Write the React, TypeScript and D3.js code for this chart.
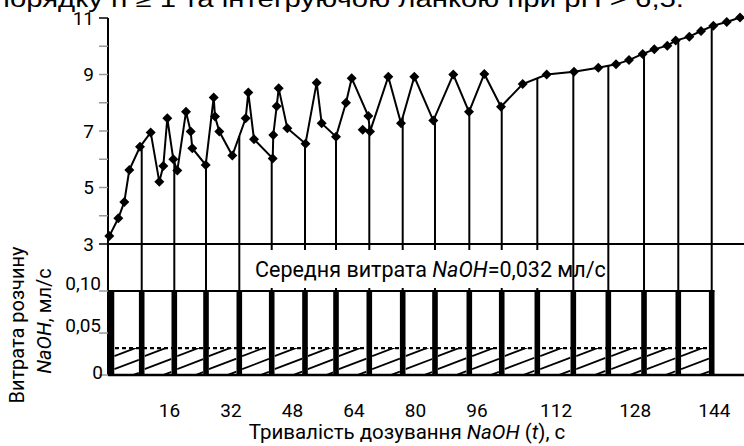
import React from "react";
import * as d3 from "d3";

// time axis (s)
const timeTicks = [16, 32, 48, 64, 80, 96, 112, 128, 144];
// upper panel: level scale
const levelTicks = [3, 4, 5, 6, 7, 8, 9, 10, 11];
// lower panel: NaOH rate, ml/s
const rateTicks = [0, 0.05, 0.1];
const rateTickLabels = ["0", "0,05", "0,10"];

const curveTime = [
  0.34, 2.68, 4.24, 5.54, 8.33, 11.11, 13.35, 14.39, 15.43, 16.99, 18.03, 20.29,
  21.51, 21.93, 25.42, 27.5, 27.84, 28.96, 32.34, 35.82, 36.5, 37.98, 42.85, 43.0,
  43.89, 44.41, 46.65, 51.38, 54.29, 55.59, 59.32, 61.92, 63.4, 67.72, 68.16, 72.92,
  76.23, 79.69, 84.63, 89.83, 93.92, 97.48, 100.85, 105.24, 110.1, 115.62, 120.53,
  124.11, 126.74, 129.51, 131.86, 134.49, 136.19, 138.94, 141.31, 143.8, 146.51, 149.2,
];
const curveLevel = [
  3.28, 3.91, 4.49, 5.62, 6.44, 6.95, 5.2, 5.76, 7.45, 6.0, 5.6, 7.68,
  6.98, 6.39, 5.8, 8.19, 7.51, 6.98, 6.13, 7.45, 8.36, 6.71, 6.03, 6.86,
  7.88, 8.51, 7.1, 6.55, 8.71, 7.27, 6.8, 8.0, 8.87, 7.53, 6.98, 8.92,
  7.27, 8.92, 7.37, 9.0, 7.68, 9.02, 7.86, 8.66, 9.0, 9.1, 9.24,
  9.36, 9.51, 9.73, 9.89, 10.02, 10.2, 10.34, 10.54, 10.73, 10.86, 11.02,
];
const strayTime = [66.26];
const strayLevel = [7.04];

// dosing moments
const stemTime = [
  8.77, 17.25, 25.5, 34.16, 42.59, 51.25, 59.32, 67.98, 76.67, 85.07, 94.0,
  101.0, 108.2, 115.48, 122.56, 129.78, 136.71, 143.47,
];
const barTime = [0.9, ...stemTime];
const meanRate = 0.032;

const W = 744;
const H = 446;
const axisX = 108;
const fontNum = "Roboto, 'DejaVu Sans', sans-serif";

export default function App() {
  const x = d3.scaleLinear().domain([0, 96, 150]).range([axisX, 477, W]);
  const yTop = d3.scaleLinear().domain([3, 11]).range([244, 18]);
  const yBot = d3.scaleLinear().domain([0, 0.1]).range([375, 291]);

  const pts = curveTime.map((t, i) => [t, curveLevel[i]] as [number, number]);
  const line = d3
    .line<[number, number]>()
    .x((d) => x(d[0]))
    .y((d) => yTop(d[1]));

  const bis = d3.bisector((d: [number, number]) => d[0]).left;
  const levelAt = (t: number) => {
    const i = Math.max(1, Math.min(pts.length - 1, bis(pts, t)));
    const a = pts[i - 1];
    const b = pts[i];
    return a[1] + ((t - a[0]) / (b[0] - a[0])) * (b[1] - a[1]);
  };

  const diamond = d3.symbol().type(d3.symbolSquare).size(50)();
  const barW = 5.6;
  const hatchTop = yBot(meanRate);
  const base = yBot(0);
  const lastBarX = x(barTime[barTime.length - 1]) + barW / 2;

  const cells = barTime.slice(0, -1).map((t, i) => ({
    x0: x(t) + barW / 2,
    x1: x(barTime[i + 1]) - barW / 2,
  }));

  return (
    <svg
      width={W}
      height={H}
      style={{ position: "absolute", left: 0, top: 0, background: "#fff" }}
    >
      <defs>
        {cells.map((c, i) => (
          <clipPath id={`cell${i}`} key={i}>
            <rect x={c.x0} y={hatchTop} width={c.x1 - c.x0} height={base - hatchTop} />
          </clipPath>
        ))}
      </defs>

      {/* cut title from the page above */}
      <text
        x={-6}
        y={6.5}
        fontFamily="'Liberation Sans', Arial, sans-serif"
        fontSize={23}
        textLength={690}
        lengthAdjust="spacingAndGlyphs"
      >
        порядку n ≥ 1 та інтегруючою ланкою при pH &gt; 6,5.
      </text>

      {/* stems */}
      {stemTime.map((t, i) => (
        <line
          key={i}
          x1={x(t)}
          x2={x(t)}
          y1={yTop(levelAt(t))}
          y2={base}
          stroke="#000"
          strokeWidth={2}
        />
      ))}

      {/* hatch under mean rate */}
      {cells.map((c, i) => {
        const w = c.x1 - c.x0;
        return (
          <g key={i} clipPath={`url(#cell${i})`}>
            {[8, 21, 34].map((off, k) => (
              <line
                key={k}
                x1={c.x0}
                x2={c.x1}
                y1={hatchTop + off}
                y2={hatchTop + off - w * 0.38}
                stroke="#000"
                strokeWidth={1.8}
              />
            ))}
          </g>
        );
      })}
      <line
        x1={axisX}
        x2={lastBarX}
        y1={hatchTop}
        y2={hatchTop}
        stroke="#000"
        strokeWidth={2.2}
        strokeDasharray="4 3"
      />

      {/* dosing bars */}
      {barTime.map((t, i) => (
        <rect
          key={i}
          x={x(t) - barW / 2}
          y={yBot(0.1)}
          width={barW}
          height={base - yBot(0.1)}
          fill="#000"
        />
      ))}
      <line x1={axisX} x2={lastBarX} y1={yBot(0.1)} y2={yBot(0.1)} stroke="#000" strokeWidth={2} />
      <line x1={axisX} x2={W} y1={base} y2={base} stroke="#000" strokeWidth={2.5} />
      <line x1={axisX} x2={W} y1={yTop(3)} y2={yTop(3)} stroke="#000" strokeWidth={2} />

      {/* mean rate note */}
      <rect x={252} y={250} width={319} height={38} fill="#fff" />
      <text x={255} y={277} fontFamily={fontNum} fontSize={21.5}>
        Середня витрата <tspan fontStyle="italic">NaOH</tspan>=0,032 мл/с
      </text>

      {/* curve */}
      <path d={line(pts) ?? ""} fill="none" stroke="#000" strokeWidth={2} />
      {pts.map((d, i) => (
        <path
          key={i}
          d={diamond ?? ""}
          transform={`translate(${x(d[0])},${yTop(d[1])}) rotate(45)`}
          fill="#000"
        />
      ))}
      {strayTime.map((t, i) => (
        <path
          key={i}
          d={diamond ?? ""}
          transform={`translate(${x(t)},${yTop(strayLevel[i])}) rotate(45)`}
          fill="#000"
        />
      ))}

      {/* vertical axis */}
      <line x1={axisX} x2={axisX} y1={yTop(11)} y2={base} stroke="#000" strokeWidth={2} />
      {levelTicks.map((v) => (
        <g key={v}>
          <line
            x1={axisX - 9}
            x2={axisX}
            y1={yTop(v)}
            y2={yTop(v)}
            stroke={v === 11 || v === 3 ? "#000" : "#999"}
            strokeWidth={1.5}
          />
          {v % 2 === 1 && (
            <text
              x={94}
              y={yTop(v)}
              dy="0.36em"
              textAnchor="end"
              fontFamily={fontNum}
              fontSize={19}
            >
              {v}
            </text>
          )}
        </g>
      ))}
      {rateTicks.map((v, i) => (
        <g key={v}>
          <line
            x1={axisX - 9}
            x2={axisX}
            y1={yBot(v)}
            y2={yBot(v)}
            stroke="#999"
            strokeWidth={1.5}
          />
          <text
            x={i === 0 ? 103 : 101}
            y={yBot(v)}
            dy={i === 0 ? "0.2em" : "-0.05em"}
            textAnchor="end"
            fontFamily={fontNum}
            fontSize={19}
          >
            {rateTickLabels[i]}
          </text>
        </g>
      ))}

      {/* time labels */}
      {timeTicks.map((t) => (
        <text
          key={t}
          x={x(t)}
          y={417}
          textAnchor="middle"
          fontFamily={fontNum}
          fontSize={19}
        >
          {t}
        </text>
      ))}
      <text x={407} y={439} textAnchor="middle" fontFamily={fontNum} fontSize={20.5}>
        Тривалість дозування <tspan fontStyle="italic">NaOH</tspan> (<tspan fontStyle="italic">t</tspan>), с
      </text>

      {/* rate axis title */}
      <text
        transform="translate(24,325) rotate(-90)"
        textAnchor="middle"
        fontFamily={fontNum}
        fontSize={20}
      >
        Витрата розчину
      </text>
      <text
        transform="translate(51,321) rotate(-90)"
        textAnchor="middle"
        fontFamily={fontNum}
        fontSize={20}
      >
        <tspan fontStyle="italic">NaOH</tspan>, мл/с
      </text>
    </svg>
  );
}
